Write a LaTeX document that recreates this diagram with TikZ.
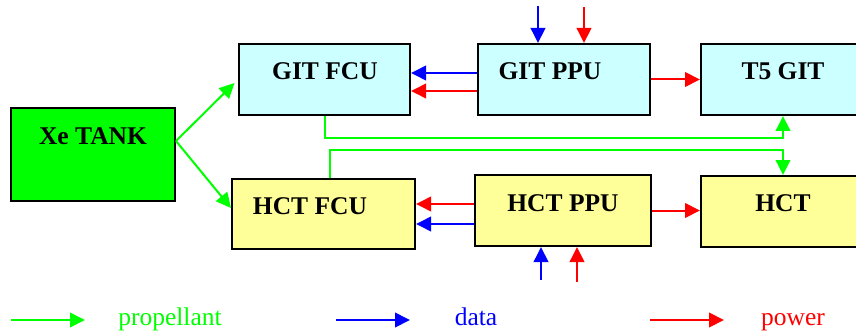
\documentclass[tikz,border=0pt]{standalone}
\usepackage{fontspec}
\setmainfont{Liberation Serif}
\usetikzlibrary{arrows.meta}
\definecolor{pgreen}{HTML}{00FF00}
\definecolor{dblue}{HTML}{0000FF}
\definecolor{pred}{HTML}{FF0000}
\definecolor{cyanbox}{HTML}{CCFFFF}
\definecolor{yelbox}{HTML}{FFFF99}
\tikzset{
  box/.style={draw=black, line width=2pt, rectangle, inner sep=0pt},
  lbl/.style={anchor=base, inner sep=0pt, font=\fontsize{25.5}{30}\selectfont\bfseries},
  leg/.style={anchor=base, inner sep=0pt, font=\fontsize{25.5}{30}\selectfont},
  conn/.style={line width=2pt, -{Triangle[length=15pt,width=14.5pt]}},
  prop/.style={conn, draw=pgreen},
  dat/.style={conn, draw=dblue},
  pow/.style={conn, draw=pred},
}
\begin{document}
\begin{tikzpicture}[x=1pt, y=-1pt]
\useasboundingbox (0,0) rectangle (856,334);
% boxes
\node[box, fill=pgreen, minimum width=164pt, minimum height=93pt] (xetank) at (93,154.5) {};
\node[box, fill=cyanbox, minimum width=171pt, minimum height=71pt] (gitfcu) at (324.5,79.5) {};
\node[box, fill=cyanbox, minimum width=172pt, minimum height=71pt] (gitppu) at (564,79.5) {};
\node[box, fill=cyanbox, minimum width=164pt, minimum height=71pt] (t5git) at (783,79.5) {};
\node[box, fill=yelbox, minimum width=183pt, minimum height=70pt] (hctfcu) at (323.5,214) {};
\node[box, fill=yelbox, minimum width=176pt, minimum height=71pt] (hctppu) at (563,210.5) {};
\node[box, fill=yelbox, minimum width=164pt, minimum height=71pt] (hct) at (783,211.5) {};
% labels
\node[lbl] (lxe) at (93,144) {Xe TANK};
\node[lbl] (lgf) at (325,80) {GIT FCU};
\node[lbl] (lgp) at (550,80) {GIT PPU};
\node[lbl] (lt5) at (783,80) {T5 GIT};
\node[lbl] (lhf) at (310,214) {HCT FCU};
\node[lbl] (lhp) at (563,211) {HCT PPU};
\node[lbl] (lh) at (783,211) {HCT};
% propellant from tank
\coordinate (tk) at ([yshift=13.5pt]xetank.east);
\draw[prop, shorten >=5pt] (tk) -- (gitfcu.west);
\draw[prop] (tk) -- ([yshift=6pt]hctfcu.west);
% GIT row
\coordinate (gb) at ([yshift=6.5pt]gitppu.west);
\coordinate (gr) at ([yshift=-11.5pt]gitppu.west);
\draw[dat] (gb) -- (gb -| gitfcu.east);
\draw[pow] (gr) -- (gr -| gitfcu.east);
\draw[pow] (gitppu.east) -- (gitppu.east -| t5git.west);
\coordinate (gdin) at (538,6);
\coordinate (gpin) at (584,7);
\draw[dat] (gdin) -- (gdin |- gitppu.north);
\draw[pow] (gpin) -- (gpin |- gitppu.north);
% green feed lines
\draw[prop] (gitfcu.south) -- ++(0,22) -| (t5git.south);
\draw[prop] ([xshift=6.5pt]hctfcu.north) -- ++(0,-28) -| (hct.north);
% HCT row
\coordinate (hr) at ([yshift=6.5pt]hctppu.west);
\coordinate (hb) at ([yshift=-13.5pt]hctppu.west);
\draw[pow] (hr) -- (hr -| hctfcu.east);
\draw[dat] (hb) -- (hb -| hctfcu.east);
\draw[pow] (hctppu.east) -- (hctppu.east -| hct.west);
\coordinate (hdin) at (541,280);
\coordinate (hpin) at (577,282);
\draw[dat] (hdin) -- (hdin |- hctppu.south);
\draw[pow] (hpin) -- (hpin |- hctppu.south);
% legend
\coordinate (lg1) at (11,320); \coordinate (lg2) at (85,320);
\coordinate (lb1) at (336,320); \coordinate (lb2) at (410,320);
\coordinate (lr1) at (650,320); \coordinate (lr2) at (724,320);
\draw[prop] (lg1) -- (lg2);
\draw[dat] (lb1) -- (lb2);
\draw[pow] (lr1) -- (lr2);
\node[leg, text=pgreen] (tprop) at (170,325) {propellant};
\node[leg, text=dblue] (tdata) at (476,325) {data};
\node[leg, text=pred] (tpow) at (793,325) {power};
\end{tikzpicture}
\end{document}
